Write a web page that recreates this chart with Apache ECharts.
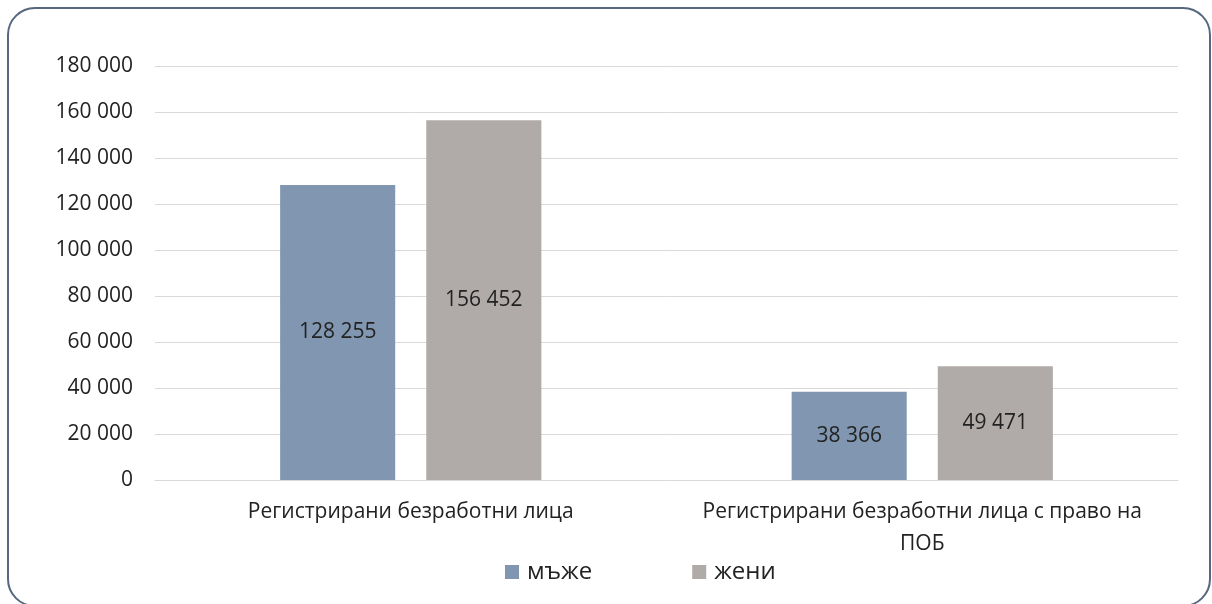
<!DOCTYPE html>
<html>
<head>
<meta charset="utf-8">
<script src="https://cdn.jsdelivr.net/npm/echarts@6/dist/echarts.min.js"></script>
<style>
  html, body { margin: 0; padding: 0; background: #fff; overflow: hidden; }
  .frame {
    position: absolute;
    left: 7px;
    top: 7px;
    width: 1204px;
    height: 600px;
    border: 2.5px solid #56677f;
    border-radius: 28px;
    box-sizing: border-box;
  }
  #chart {
    position: absolute;
    left: 0;
    top: 0;
    width: 1212px;
    height: 604px;
  }
</style>
</head>
<body>
<div class="frame"></div>
<div id="chart"></div>
<script>
const categories = ['Регистрирани безработни лица', 'Регистрирани безработни лица с право на ПОБ']
const men = [128255, 38366]
const women = [156452, 49471]
const seriesNames = ['мъже', 'жени']

const fontFamily = '"Open Sans", "Noto Sans", sans-serif'

function fmt(v) {
  return String(v).replace(/\B(?=(\d{3})+(?!\d))/g, ' ')
}

// simple word wrap, at most 40 chars per line
function wrap(text) {
  const lines = []
  let cur = ''
  text.split(' ').forEach(w => {
    if (cur && (cur + ' ' + w).length > 40) {
      lines.push(cur)
      cur = w
    } else {
      cur = cur ? cur + ' ' + w : w
    }
  })
  lines.push(cur)
  return lines.join('\n')
}

const chart = echarts.init(document.getElementById('chart'))

const labelStyle = {
  show: true,
  position: 'inside',
  color: '#222',
  fontSize: 21,
  fontFamily: fontFamily,
  formatter: p => fmt(p.value)
}

chart.setOption({
  animation: false,
  backgroundColor: 'transparent',
  grid: {
    left: 155,
    right: 34,
    top: 66,
    bottom: 124,
    containLabel: false
  },
  legend: {
    top: 555,
    left: 500,
    itemWidth: 14,
    itemHeight: 14,
    itemGap: 100,
    icon: 'rect',
    textStyle: { color: '#222', fontSize: 24, fontFamily: fontFamily, padding: [0, 0, 0, 3] },
    data: seriesNames
  },
  xAxis: {
    type: 'category',
    data: categories,
    axisLine: { lineStyle: { color: '#d9d9d9', width: 1 } },
    axisTick: { show: false },
    axisLabel: {
      color: '#222',
      fontSize: 21,
      fontFamily: fontFamily,
      margin: 16,
      lineHeight: 32,
      interval: 0,
      formatter: v => wrap(v)
    }
  },
  yAxis: {
    type: 'value',
    min: 0,
    max: 180000,
    interval: 20000,
    axisLine: { show: false },
    axisTick: { show: false },
    axisLabel: {
      color: '#222',
      fontSize: 21,
      fontFamily: fontFamily,
      margin: 22,
      formatter: v => fmt(v)
    },
    splitLine: { lineStyle: { color: '#d9d9d9', width: 1 } }
  },
  series: [
    {
      name: seriesNames[0],
      type: 'bar',
      data: men,
      barWidth: '22.5%',
      barGap: '27%',
      itemStyle: { color: '#8196b0' },
      label: labelStyle
    },
    {
      name: seriesNames[1],
      type: 'bar',
      data: women,
      barWidth: '22.5%',
      itemStyle: { color: '#b0aba9' },
      label: labelStyle
    }
  ]
})
</script>
</body>
</html>
